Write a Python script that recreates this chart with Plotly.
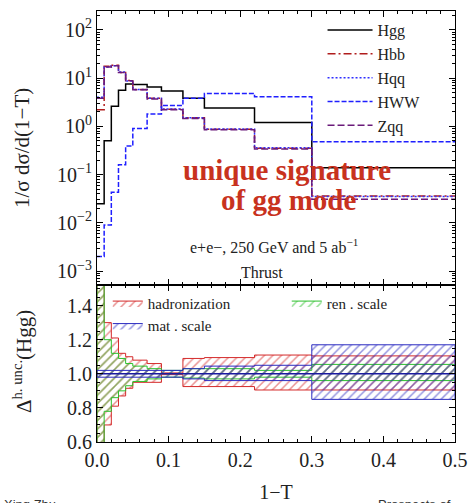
import numpy as np
import plotly.graph_objects as go

# ---------------- data ----------------
edges = [0.0, 0.01, 0.02, 0.03, 0.04, 0.05, 0.07, 0.09, 0.12, 0.15, 0.22, 0.30, 0.50]

hgg = [0.025, 0.5, 2.6, 5.6, 7.5, 7.4, 6.5, 5.4, 3.8, 2.4, 1.2, 0.138]
hbb = [2.2, 17.5, 18.5, 13.0, 8.9, 5.8, 3.8, 2.25, 1.5, 0.87, 0.35, 0.036]
hqq = [4.0, 17.0, 18.0, 13.3, 8.7, 5.8, 3.8, 2.3, 1.5, 0.88, 0.36, 0.035]
hww = [0.002, 0.009, 0.043, 0.16, 0.39, 0.9, 1.8, 2.7, 3.8, 4.8, 4.1, 0.48]
zqq = [3.8, 17.0, 18.0, 13.0, 8.8, 5.7, 3.7, 2.2, 1.45, 0.85, 0.34, 0.031]

had_hi = [1.56, 1.30, 1.21, 1.12, 1.10, 1.08, 1.06, 1.005, 1.09, 1.095, 1.11, 1.105]
had_lo = [0.45, 0.70, 0.81, 0.87, 0.915, 0.95, 0.95, 0.995, 0.925, 0.925, 0.905, 0.905]
ren_hi = [1.52, 1.20, 1.12, 1.09, 1.06, 1.045, 1.03, 1.02, 1.03, 1.03, 1.02, 1.055]
ren_lo = [0.45, 0.78, 0.86, 0.90, 0.93, 0.955, 0.97, 0.98, 0.975, 0.97, 0.98, 0.96]
mat_hi = [1.02, 1.02, 1.02, 1.02, 1.02, 1.02, 1.02, 1.02, 1.03, 1.045, 1.05, 1.17]
mat_lo = [0.98, 0.98, 0.98, 0.98, 0.98, 0.98, 0.98, 0.98, 0.97, 0.96, 0.96, 0.85]
nominal = [1.0] * 13

x_ticks = [0.0, 0.1, 0.2, 0.3, 0.4, 0.5]
x_ticklabels = ["0.0", "0.1", "0.2", "0.3", "0.4", "0.5"]
ratio_ticks = [0.6, 0.8, 1.0, 1.2, 1.4]
ratio_ticklabels = ["0.6", "0.8", "1.0", "1.2", "1.4"]
log_ticks = [1e-3, 1e-2, 1e-1, 1e0, 1e1, 1e2]
log_ticklabels = ["10<sup>−3</sup>", "10<sup>−2</sup>", "10<sup>−1</sup>",
                  "10<sup>0</sup>", "10<sup>1</sup>", "10<sup>2</sup>"]

# ---------------- figure ----------------
SERIF = "Liberation Serif"
e = np.array(edges)

fig = go.Figure()

def step(vals, name, color, dash, width=1.5):
    fig.add_trace(go.Scatter(
        x=edges, y=list(vals) + [vals[-1]], mode="lines", name=name,
        line=dict(color=color, dash=dash, width=width, shape="hv"),
        xaxis="x2", yaxis="y2", legend="legend"))

step(hgg, "Hgg", "black", "solid")
step(hbb, "Hbb", "#b01c1c", "8px,3px,2px,3px")
step(hqq, "Hqq", "#2f2fff", "2px,2px")
step(hww, "HWW", "#1f1fff", "5px,2px")
step(zqq, "Zqq", "#6a1a7a", "7px,3px")

def band(lo, hi, name, color, legend):
    xs_up = np.repeat(e, 2)[1:-1]
    ys_up = np.repeat(np.array(hi), 2)
    ys_lo = np.repeat(np.array(lo), 2)
    xs = np.concatenate([xs_up, xs_up[::-1], xs_up[:1]])
    ys = np.concatenate([ys_up, ys_lo[::-1], ys_up[:1]])
    fig.add_trace(go.Scatter(
        x=xs, y=ys, mode="lines", name=name, fill="toself",
        fillcolor="rgba(255,255,255,0)",
        fillpattern=dict(shape="/", fgcolor=color, bgcolor="rgba(255,255,255,0)",
                         size=6, solidity=0.25, fillmode="overlay"),
        line=dict(color=color, width=1),
        xaxis="x", yaxis="y", legend=legend))

band(had_lo, had_hi, "hadronization", "#d42a2a", "legend2")
band(ren_lo, ren_hi, "ren . scale", "#2cc02c", "legend3")
band(mat_lo, mat_hi, "mat . scale", "#2a2ac0", "legend2")

fig.add_trace(go.Scatter(x=edges, y=nominal, mode="lines", showlegend=False,
                         line=dict(color="#1a1aa0", width=1.5, shape="hv"),
                         xaxis="x", yaxis="y"))

axis_common = dict(showline=True, linecolor="black", linewidth=1, mirror="allticks",
                   ticks="inside", ticklen=6, tickcolor="black", showgrid=False,
                   zeroline=False, automargin=False)

fig.update_layout(
    width=469, height=503,
    margin=dict(l=97, r=14, t=11, b=61),
    paper_bgcolor="white", plot_bgcolor="white",
    font=dict(family=SERIF, size=17, color="#222"),
    xaxis=dict(**axis_common, range=[0, 0.5], tickvals=x_ticks, ticktext=x_ticklabels,
               minor=dict(ticks="inside", ticklen=3, dtick=0.02, tickcolor="black"),
               anchor="y", domain=[0, 1],
               title=dict(text="1−T", standoff=20, font=dict(size=20)),
               tickfont=dict(size=20)),
    yaxis=dict(**axis_common, range=[0.6, 1.52], domain=[0, 0.364],
               tickvals=ratio_ticks, ticktext=ratio_ticklabels,
               minor=dict(ticks="inside", ticklen=3, dtick=0.05, tickcolor="black"),
               anchor="x", tickfont=dict(size=20)),
    xaxis2=dict(**axis_common, range=[0, 0.5], tickvals=x_ticks, showticklabels=False,
                minor=dict(ticks="inside", ticklen=3, dtick=0.02, tickcolor="black"),
                anchor="y2", matches="x"),
    yaxis2=dict(**axis_common, type="log", range=[-3.29, 2.39], domain=[0.364, 1],
                tickvals=log_ticks, ticktext=log_ticklabels,
                minor=dict(ticks="inside", ticklen=3, dtick="D1", tickcolor="black"),
                anchor="x2", tickfont=dict(size=20)),
    legend=dict(x=0.63, y=0.995, xanchor="left", yanchor="top", bgcolor="rgba(0,0,0,0)",
                font=dict(size=16, family=SERIF), tracegroupgap=0, itemwidth=45),
    legend2=dict(x=0.03, y=0.36, xanchor="left", yanchor="top", bgcolor="rgba(0,0,0,0)",
                 font=dict(size=15, family=SERIF), tracegroupgap=0),
    legend3=dict(x=0.53, y=0.36, xanchor="left", yanchor="top", bgcolor="rgba(0,0,0,0)",
                 font=dict(size=15, family=SERIF), tracegroupgap=0),
    showlegend=True,
)

# y-axis titles (placed in the left margin)
fig.add_annotation(text="1/σ dσ/d(1−T)", xref="paper", yref="paper",
                   x=(22 - 97) / 358, y=(442 - 148) / 431, textangle=-90, showarrow=False,
                   xanchor="center", yanchor="middle",
                   font=dict(family=SERIF, size=21, color="#222"))
fig.add_annotation(text="Δ<sup>h. unc.</sup>(Hgg)", xref="paper", yref="paper",
                   x=(22 - 97) / 358, y=(442 - 362) / 431, textangle=-90, showarrow=False,
                   xanchor="center", yanchor="middle",
                   font=dict(family=SERIF, size=21, color="#222"))

fig.add_annotation(text="<b>unique signature</b>", xref="paper", yref="paper",
                   x=0.53, y=(442 - 170) / 431, showarrow=False,
                   font=dict(family=SERIF, size=29, color="#c8321e"))
fig.add_annotation(text="<b>of gg mode</b>", xref="paper", yref="paper",
                   x=0.535, y=(442 - 200) / 431, showarrow=False,
                   font=dict(family=SERIF, size=29, color="#c8321e"))
fig.add_annotation(text="e+e−, 250 GeV and 5 ab<sup>−1</sup>", xref="paper", yref="paper",
                   x=0.494, y=0.455, showarrow=False,
                   font=dict(family=SERIF, size=16, color="#222"))
fig.add_annotation(text="Thrust", xref="paper", yref="paper",
                   x=0.461, y=0.394, showarrow=False,
                   font=dict(family=SERIF, size=16, color="#222"))
fig.add_annotation(text="Xing Zhu", xref="paper", yref="paper", x=-0.265, y=-0.123,
                   xanchor="left", yanchor="top", showarrow=False,
                   font=dict(family="Liberation Sans", size=13, color="#333"))
fig.add_annotation(text="Prospects of", xref="paper", yref="paper", x=0.78, y=-0.123,
                   xanchor="left", yanchor="top", showarrow=False,
                   font=dict(family="Liberation Sans", size=13, color="#333"))

fig.write_html("out.html")
